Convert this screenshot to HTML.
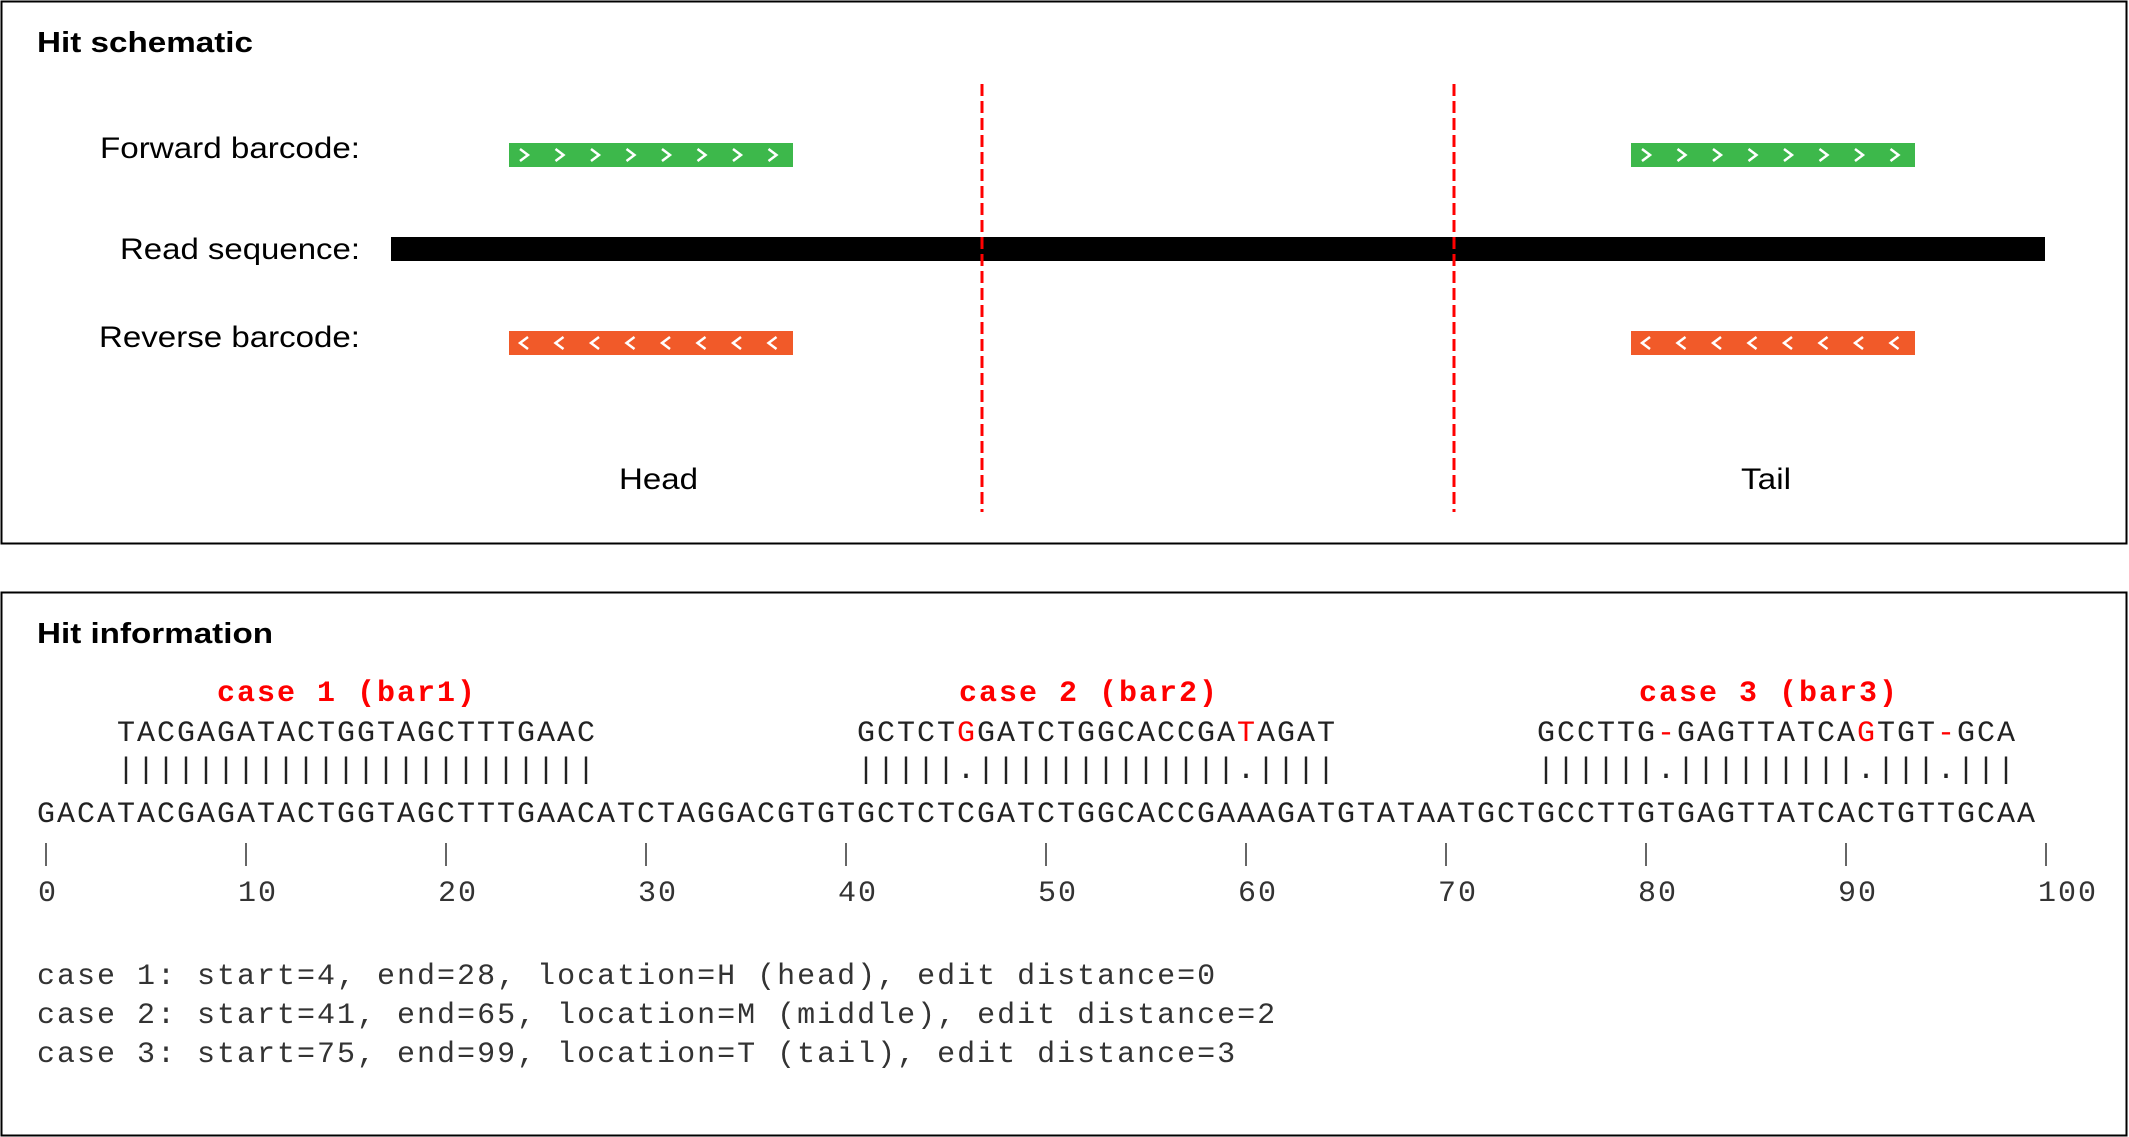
<!DOCTYPE html>
<html><head><meta charset="utf-8"><style>
body{margin:0;background:#fff;width:2129px;height:1137px;overflow:hidden}
svg{display:block}
.lab{font-family:"Liberation Sans",Arial,sans-serif;font-size:30px;fill:#000}
.ttl{font-family:"Liberation Sans",Arial,sans-serif;font-size:29px;font-weight:bold;fill:#000}
.mono{font-family:"Liberation Mono",monospace;font-size:30px;fill:#222}
.info{font-family:"Liberation Mono",monospace;font-size:30px;letter-spacing:2px;fill:#333}
.case{font-family:"Liberation Mono",monospace;font-size:30px;letter-spacing:2px;font-weight:bold;fill:#f00}
</style></head><body>
<svg id="s" width="2129" height="1137">
<rect x="1.5" y="1.5" width="2125" height="542" fill="none" stroke="#000" stroke-width="2"/>
<text x="37" y="52" class="ttl" textLength="216" lengthAdjust="spacingAndGlyphs">Hit schematic</text>
<text x="100" y="158" class="lab" textLength="260" lengthAdjust="spacingAndGlyphs">Forward barcode:</text>
<text x="120" y="259" class="lab" textLength="240" lengthAdjust="spacingAndGlyphs">Read sequence:</text>
<text x="99" y="347" class="lab" textLength="261" lengthAdjust="spacingAndGlyphs">Reverse barcode:</text>
<rect x="391" y="237" width="1654" height="24" fill="#000"/>
<text x="619" y="489" class="lab" textLength="79" lengthAdjust="spacingAndGlyphs">Head</text>
<text x="1741" y="489" class="lab" textLength="50" lengthAdjust="spacingAndGlyphs">Tail</text>
<line x1="982" y1="84" x2="982" y2="512" stroke="#f00" stroke-width="3" stroke-dasharray="12,5"/>
<line x1="1454" y1="84" x2="1454" y2="512" stroke="#f00" stroke-width="3" stroke-dasharray="12,5"/>
<g id="bars"></g>

<rect x="1.5" y="592.5" width="2125" height="543" fill="none" stroke="#000" stroke-width="2"/>
<text x="37" y="643" class="ttl" textLength="236" lengthAdjust="spacingAndGlyphs">Hit information</text>
<g id="align"></g>
<text x="37" y="984" class="info">case 1: start=4, end=28, location=H (head), edit distance=0</text>
<text x="37" y="1023" class="info">case 2: start=41, end=65, location=M (middle), edit distance=2</text>
<text x="37" y="1062" class="info">case 3: start=75, end=99, location=T (tail), edit distance=3</text>
</svg>
<script>
var NS="http://www.w3.org/2000/svg";
var barX=[509,1631];
var barW=284;
function mk(t,a,p){var e=document.createElementNS(NS,t);for(var k in a)e.setAttribute(k,a[k]);p.appendChild(e);return e;}
var bars=document.getElementById('bars');
barX.forEach(function(x,bi){
  [[143,'#3db84b',1],[331,'#f15a29',-1]].forEach(function(r){
    var b=mk('rect',{x:x,y:r[0],width:barW,height:24,fill:r[1]},bars);
    
    
    for(var i=0;i<8;i++){
      var cx=x+15+i*35.5, cy=r[0]+12, d=r[2]*4;
      var p=mk('polyline',{points:(cx-d)+','+(cy-6)+' '+(cx+d)+','+cy+' '+(cx-d)+','+(cy+6),fill:'none',stroke:'#fff','stroke-width':2.5},bars);
      
      
    }
  });
});
var CW=20, X0=36;
var mainSeq="GACATACGAGATACTGGTAGCTTTGAACATCTAGGACGTGTGCTCTCGATCTGGCACCGAAAGATGTATAATGCTGCCTTGTGAGTTATCACTGTTGCAA";
var caseStarts=[4,41,75];
var caseSeqs=["TACGAGATACTGGTAGCTTTGAAC","GCTCTGGATCTGGCACCGATAGAT","GCCTTG-GAGTTATCAGTGT-GCA"];
var caseMatch=["||||||||||||||||||||||||","|||||.|||||||||||||.||||","||||||.|||||||||.|||.|||"];
var caseLabels=["case 1 (bar1)","case 2 (bar2)","case 3 (bar3)"];
var labelX=[217,959,1639];
var ticks=[0,10,20,30,40,50,60,70,80,90,100];
var al=document.getElementById('align');
function chars(str,x,y,cls,name,colorFn){
  var g=mk('g',{},al);
  
  
  for(var i=0;i<str.length;i++){
    if(str[i]===' ')continue;
    var t=mk('text',{x:x+i*CW+CW/2,y:y,'text-anchor':'middle',class:cls},g);
    if(colorFn&&colorFn(i))t.setAttribute('style','fill:#f00');
    t.textContent=str[i];
  }
}
chars(mainSeq,X0,822,'mono','read-sequence-text');
caseSeqs.forEach(function(s,k){
  var x=X0+caseStarts[k]*CW;
  chars(s,x,741,'mono','case'+(k+1)+'-barcode-sequence',function(i){return s[i]==='-'||(caseMatch[k][i]==='.'&&s[i]!==mainSeq[caseStarts[k]+i]);});
  chars(caseMatch[k],x,778,'mono','case'+(k+1)+'-match-line');
  var t=mk('text',{x:labelX[k],y:701,class:'case'},al);
  
  
  t.textContent=caseLabels[k];
});
ticks.forEach(function(v){
  var x=X0+v*CW+10;
  var l=mk('line',{x1:x,y1:843,x2:x,y2:866,stroke:'#333','stroke-width':1.5},al);
  
  
  var t=mk('text',{x:x-8,y:901,class:'info'},al);
  
  
  t.textContent=v;
});
</script>
</body></html>
